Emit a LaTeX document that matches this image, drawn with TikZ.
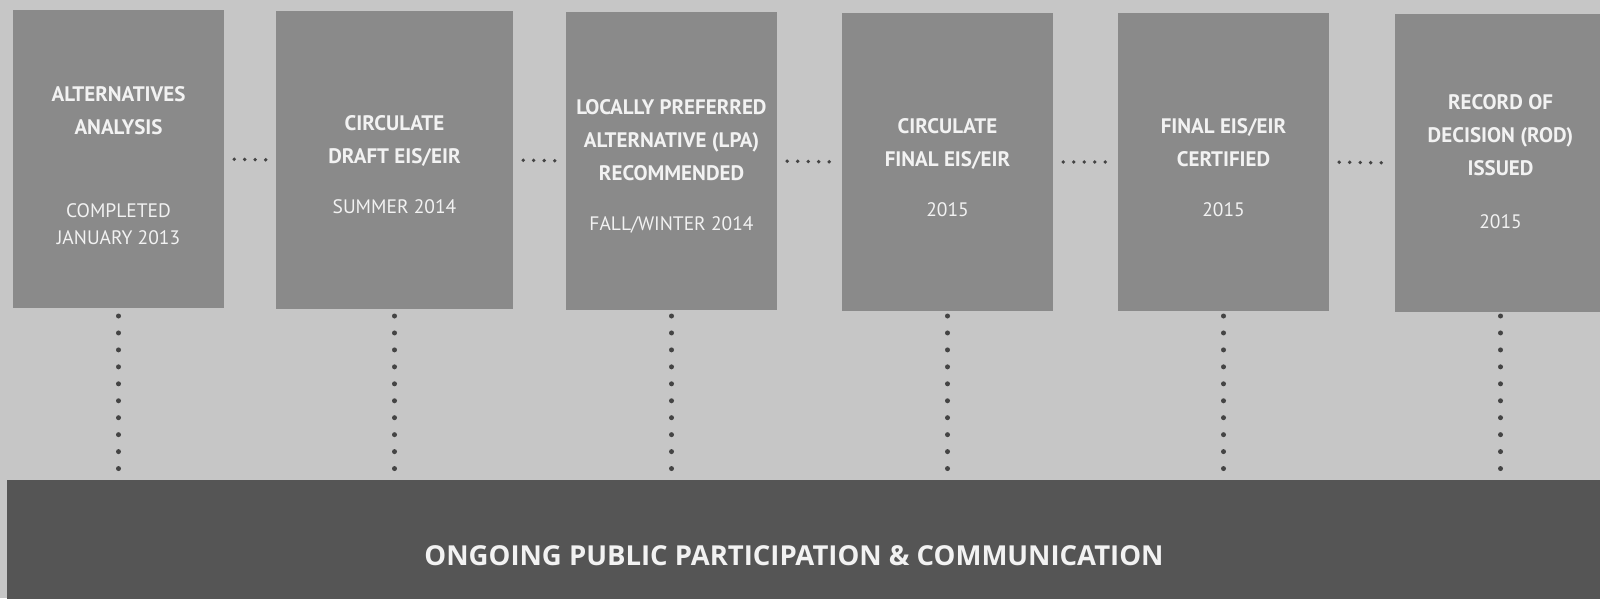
\documentclass[tikz,border=0pt]{standalone}
\usepackage{fontspec}
\setmainfont{PT Sans}
\newfontfamily\barfont{Open Sans}
\definecolor{bgc}{HTML}{C6C6C6}
\definecolor{boxc}{HTML}{8A8A8A}
\definecolor{barc}{HTML}{555555}
\definecolor{txtc}{HTML}{F2F2F2}
\definecolor{dotc}{HTML}{444444}
\begin{document}
\begin{tikzpicture}[x=1pt,y=-1pt,
  stagebox/.style={fill=boxc,minimum width=211pt,minimum height=298pt,inner sep=0pt},
  titletext/.style={text=txtc,align=center,font=\bfseries\fontsize{21}{33}\selectfont,inner sep=0pt},
  datetext/.style={text=txtc,align=center,font=\fontsize{19.5}{27}\selectfont,inner sep=0pt},
  hdots/.style={draw=dotc,line width=3.8pt,line cap=round,dash pattern=on 0pt off 10.5pt,shorten >=10pt,shorten <=10pt},
  vdots/.style={draw=dotc,line width=5pt,line cap=round,dash pattern=on 0pt off 16.95pt}]
\useasboundingbox (0,0) rectangle (1600,598);
\fill[bgc] (0,0) rectangle (1600,598);
% stage boxes
\node[stagebox] (b1) at (118.5,159) {};
\node[stagebox,minimum width=237pt] (b2) at (394.5,160) {};
\node[stagebox] (b3) at (671.5,161) {};
\node[stagebox] (b4) at (947.5,162) {};
\node[stagebox] (b5) at (1223.5,162) {};
\node[stagebox] (b6) at (1500.5,163) {};
% bar
\node[fill=barc,minimum width=1603pt,minimum height=125pt,anchor=north west,inner sep=0pt] (bar) at (7,480) {};
\node[text=txtc,font=\barfont\bfseries\fontsize{27.5}{30}\selectfont,inner sep=0pt] (bartext) at (794,556) {ONGOING PUBLIC PARTICIPATION \& COMMUNICATION};
% horizontal connectors
\draw[hdots] (b1.east) -- (b2.west);
\draw[hdots] (b2.east) -- (b3.west);
\draw[hdots] (b3.east) -- (b4.west);
\draw[hdots] (b4.east) -- (b5.west);
\draw[hdots] (b5.east) -- (b6.west);
% vertical connectors
\coordinate (vtop) at (0,316);
\coordinate (vbot) at (0,469);
\foreach \b in {b1,b2,b3,b4,b5,b6}{
  \draw[vdots] (\b.south |- vtop) -- (\b.south |- vbot);
}
% texts
\node[titletext] (t1) at (118.5,111) {ALTERNATIVES\\ANALYSIS};
\node[datetext] (d1) at (118.5,224) {COMPLETED\\JANUARY 2013};
\node[titletext] (t2) at (394.5,141) {CIRCULATE\\DRAFT EIS/EIR};
\node[datetext] (d2) at (394.5,207) {SUMMER 2014};
\node[titletext] (t3) at (671.5,140) {LOCALLY PREFERRED\\ALTERNATIVE (LPA)\\RECOMMENDED};
\node[datetext] (d3) at (671.5,225) {FALL/WINTER 2014};
\node[titletext] (t4) at (947.5,144) {CIRCULATE\\FINAL EIS/EIR};
\node[datetext] (d4) at (947.5,210) {2015};
\node[titletext] (t5) at (1223.5,143) {FINAL EIS/EIR\\CERTIFIED};
\node[datetext] (d5) at (1223.5,210) {2015};
\node[titletext] (t6) at (1500.5,135) {RECORD OF\\DECISION (ROD)\\ISSUED};
\node[datetext] (d6) at (1500.5,222) {2015};
\end{tikzpicture}
\end{document}
